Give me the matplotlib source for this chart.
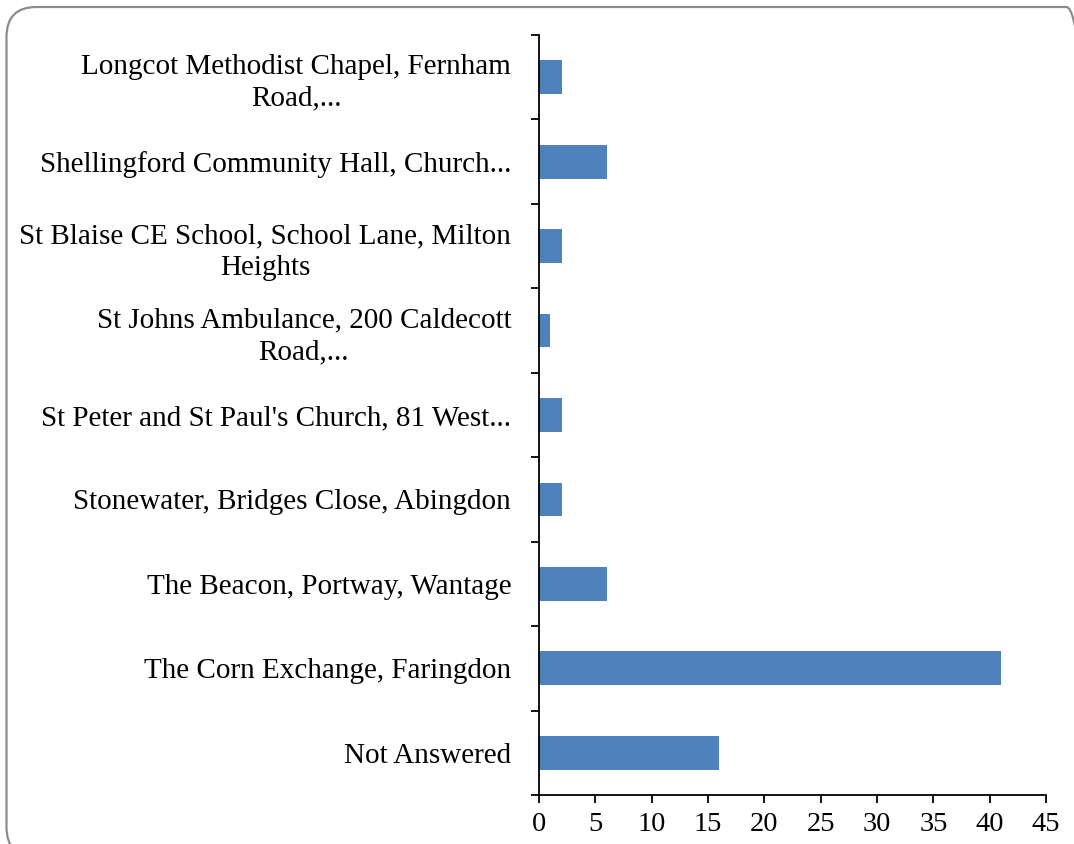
import matplotlib
matplotlib.use("Agg")
import matplotlib.pyplot as plt
from matplotlib.patches import FancyBboxPatch
from matplotlib.transforms import IdentityTransform
import numpy as np

categories = [
    "Longcot Methodist Chapel, Fernham\nRoad,...",
    "Shellingford Community Hall, Church...",
    "St Blaise CE School, School Lane, Milton\nHeights",
    "St Johns Ambulance, 200 Caldecott\nRoad,...",
    "St Peter and St Paul's Church, 81 West...",
    "Stonewater, Bridges Close, Abingdon",
    "The Beacon, Portway, Wantage",
    "The Corn Exchange, Faringdon",
    "Not Answered",
]
values = [2, 6, 2, 1, 2, 2, 6, 41, 16]
xticks = [0, 5, 10, 15, 20, 25, 30, 35, 40, 45]

plt.rcParams['font.family'] = ['Liberation Serif', 'DejaVu Serif']

W, H = 1074, 844
fig = plt.figure(figsize=(W / 100, H / 100), dpi=100)

# rounded border (pixel coordinates)
border = FancyBboxPatch((6.5, H - 857), 1090, 850,
                        boxstyle="round,pad=0,rounding_size=30",
                        transform=IdentityTransform(), facecolor='none',
                        edgecolor='#8c8c8c', linewidth=1.6, zorder=-5)
fig.patches.append(border)

ax = fig.add_axes([539 / W, 1 - 795 / H, (1046 - 539) / W, (795 - 35) / H])
ax.set_facecolor('none')

n = len(categories)
y = np.arange(n)[::-1]
ax.barh(y, values, height=0.4, color='#4F81BD', zorder=2)

ax.set_ylim(-0.5, n - 0.5)
ax.set_xlim(0, 45)
ax.set_xticks(xticks)
ax.set_xticklabels([str(t) for t in xticks], fontsize=20.5)

ax.set_yticks(y)
ax.set_yticklabels(categories, fontsize=21, multialignment='center',
                   linespacing=1.27)
ax.tick_params(axis='y', which='major', length=0, pad=20)
ax.set_yticks(np.arange(-0.5, n, 1.0), minor=True)
ax.tick_params(axis='y', which='minor', length=6, width=1.3, direction='out')
ax.tick_params(axis='x', length=6, width=1.3, direction='out', pad=6)

for s in ['top', 'right']:
    ax.spines[s].set_visible(False)
for s in ['left', 'bottom']:
    ax.spines[s].set_linewidth(1.3)

fig.savefig('out.png', dpi=100)
